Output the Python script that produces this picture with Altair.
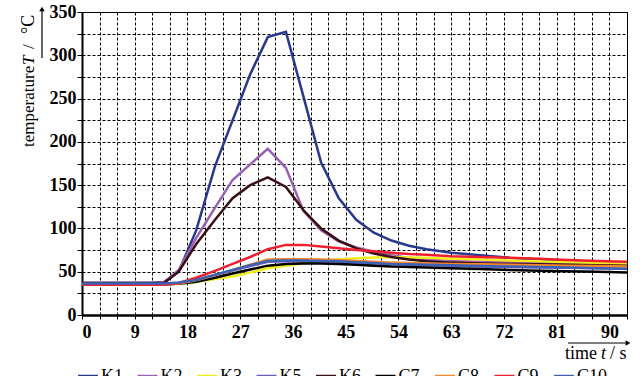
import altair as alt
import pandas as pd

time_s = [0, 3, 6, 9, 12, 14, 16.5, 19.5, 22.7, 25.7, 28.7, 31.7, 34.8, 37.8, 40.8,
          43.8, 46.8, 49.8, 52.8, 55.8, 58.8, 63, 68, 73, 78, 83, 88, 93]

K1 = [37, 37, 37, 37, 37, 38, 50, 98, 172, 225, 278, 321, 327, 252, 176,
      135, 110, 95, 86, 80, 76, 72, 69, 66, 64, 62, 61, 59.5]
K2 = [37, 37, 37, 37, 37, 38, 52, 89, 124, 156, 174, 192, 170, 120, 98,
      85, 78, 73, 69, 66, 64, 62.5, 61.5, 61, 60.5, 60, 60, 60]
K3 = [35.5, 35.5, 35.5, 35.5, 35.5, 35.5, 36, 38, 41.5, 44.5, 49, 54, 57, 60, 62,
      64, 65.5, 66.5, 67, 66.5, 66, 65, 64, 63, 62, 61, 60, 59]
K5 = [36, 36, 36, 36, 36, 36, 37, 40, 46, 51.5, 56.5, 61.5, 62, 62, 61.5,
      61, 60, 59, 58.5, 58, 57.5, 57, 56, 55.5, 55, 54.5, 54, 53.5]
K6 = [37, 37, 37, 37, 37, 37, 50, 82, 110, 135, 150, 159, 148, 121, 100,
      86, 77, 71, 67, 64, 62, 60.5, 59.5, 59, 58.5, 58, 57.5, 57]
C7 = [35.5, 35.5, 35.5, 35.5, 35.5, 35.5, 36, 38.5, 43, 48, 52.5, 57, 59, 59.5, 59.5,
      59, 58, 57, 56, 55.5, 55, 54, 53, 52, 51, 50.5, 50, 49]
C8 = [35.5, 35.5, 35.5, 35.5, 35.5, 35.5, 36.5, 40, 46, 52, 58, 64, 64.5, 64.5, 64,
      63.5, 62.5, 61.5, 60.5, 60, 59.5, 59, 58.5, 58, 57.5, 57, 56.5, 56]
C9 = [35, 35, 35, 35, 35, 35, 37, 43, 51, 59, 67, 76, 81, 81, 79,
      77, 75, 73.5, 72, 70.5, 69.5, 68, 67, 66, 65, 63.5, 62.5, 61.5]
C10 = [36.5, 36.5, 36.5, 36.5, 36.5, 36.5, 37.5, 40.5, 46.5, 52, 57.5, 62.5, 63, 63, 62.5,
       62, 61, 60, 59, 58.5, 58, 57.5, 56.5, 56, 55.5, 55, 54, 53.5]

series_names = ["K1", "K2", "K3", "K5", "K6", "C7", "C8", "C9", "C10"]
series_values = [K1, K2, K3, K5, K6, C7, C8, C9, C10]
series_colors = ["#27388f", "#9a5fb5", "#f0ee1e", "#6a5fc0", "#3a0f14",
                 "#000000", "#f5872a", "#ee2030", "#3d62b4"]

x_ticks = [0, 3, 6, 9, 12, 15, 18, 21, 24, 27, 30, 33, 36, 39, 42, 45, 48, 51,
           54, 57, 60, 63, 66, 69, 72, 75, 78, 81, 84, 87, 90, 93]
y_ticks = [0, 25, 50, 75, 100, 125, 150, 175, 200, 225, 250, 275, 300, 325, 350]

rows = []
for name, vals in zip(series_names, series_values):
    for order, (t, v) in enumerate(zip(time_s, vals)):
        rows.append({"series": name, "t": t, "T": v, "o": order})
df = pd.DataFrame(rows)

SERIF = "'Liberation Serif', 'Times New Roman', Times, serif"

lines = alt.Chart(df).mark_line(strokeWidth=2.5).encode(
    x=alt.X("t:Q", scale=alt.Scale(domain=[0, 93], nice=False, zero=False),
            axis=alt.Axis(values=x_ticks, title=None,
                          labelExpr="datum.value % 9 == 0 ? datum.label : ''",
                          grid=True, gridDash=[3, 2], gridColor="#000", gridWidth=1,
                          tickColor="#000", tickSize=4, domainColor="#000", domainWidth=2.5,
                          labelFont=SERIF, labelFontWeight="bold", labelFontSize=18,
                          labelColor="#000", labelPadding=4)),
    y=alt.Y("T:Q", scale=alt.Scale(domain=[0, 350], nice=False),
            axis=alt.Axis(values=y_ticks, title=None,
                          labelExpr="datum.value % 50 == 0 ? datum.label : ''",
                          grid=True, gridDash=[3, 2], gridColor="#000", gridWidth=1,
                          tickColor="#000", tickSize=5, domainColor="#000", domainWidth=2,
                          labelFont=SERIF, labelFontWeight="bold", labelFontSize=18,
                          labelColor="#000", labelPadding=1)),
    color=alt.Color("series:N",
                    scale=alt.Scale(domain=series_names, range=series_colors),
                    sort=series_names,
                    legend=alt.Legend(title=None, orient="none", legendX=-6, legendY=352.5,
                                      direction="horizontal", columns=9, gridAlign="all",
                                      columnPadding=-1.5, symbolType="stroke",
                                      symbolStrokeWidth=3.5, symbolSize=400,
                                      labelFont=SERIF, labelFontSize=18, labelColor="#000",
                                      labelOffset=1, padding=0)),
    order=alt.Order("o:Q"),
)

one = pd.DataFrame({"a": [0]})

def txt(s, x, y, angle=0, italic=False, size=17):
    return alt.Chart(one).mark_text(
        text=s, font=SERIF, fontSize=size, align="left", baseline="alphabetic",
        angle=angle, fontStyle="italic" if italic else "normal", color="#000"
    ).encode(x=alt.value(x), y=alt.value(y))

# y title pieces (rotated)
yt1 = txt("temperature", -48, 135, angle=270)
yt2 = txt("T", -48, 53, angle=270, italic=True)
yt3 = txt("/", -48, 37, angle=270)
yt4 = txt("°C", -48, 22, angle=270, size=18)
# x title pieces
xt1 = txt("time", 483, 347, size=18)
xt2 = txt("t", 519, 347, italic=True, size=18)
xt3 = txt("/ s", 528, 347, size=18)

# arrows
yarrow = alt.Chart(one).mark_rule(color="#000", strokeWidth=1.2).encode(
    x=alt.value(-40), y=alt.value(46), y2=alt.value(-2))
yhead = alt.Chart(one).mark_point(shape="triangle-up", filled=True, color="#000",
                                  size=30, opacity=1).encode(
    x=alt.value(-40), y=alt.value(-3))
xarrow = alt.Chart(one).mark_rule(color="#000", strokeWidth=1.2).encode(
    x=alt.value(486), x2=alt.value(544), y=alt.value(331))
xhead = alt.Chart(one).mark_point(shape="triangle-right", filled=True, color="#000",
                                  size=30, opacity=1).encode(
    x=alt.value(546), y=alt.value(331))

chart = alt.layer(lines, yt1, yt2, yt3, yt4, xt1, xt2, xt3,
                  yarrow, yhead, xarrow, xhead).properties(
    width=545, height=303,
    padding={"left": 82, "top": 12, "right": 17, "bottom": 61},
    autosize="none",
    background="white",
).configure_view(stroke="#000", strokeWidth=1)

chart.save("out.html", embed_options={"renderer": "svg", "actions": False})
